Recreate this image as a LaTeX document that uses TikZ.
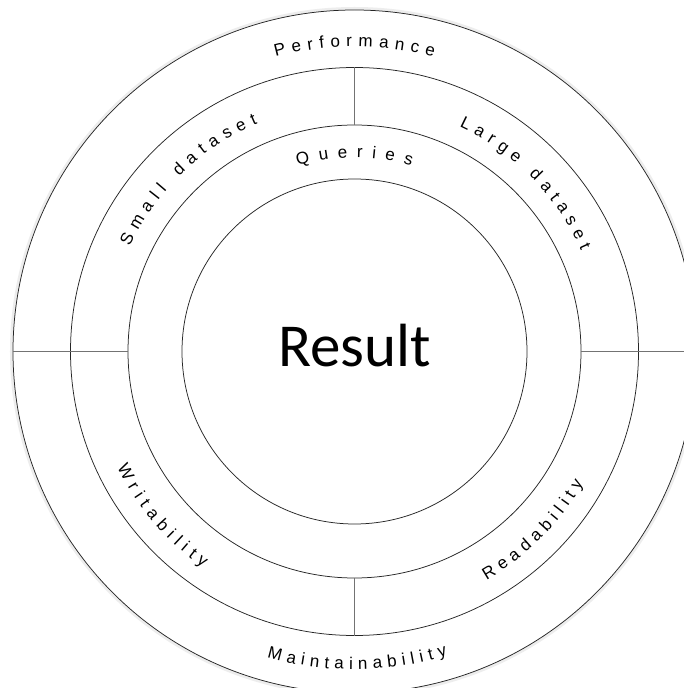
\documentclass[tikz,border=0pt]{standalone}
\usepackage{fontspec}
\setmainfont{Liberation Sans}
\newfontfamily\resultfont{Carlito}
\usetikzlibrary{decorations.text}

\def\rcore{172.5}  % Result circle
\def\rmid{226.5}   % Queries ring
\def\rsub{284}     % dataset / ability ring
\def\router{341.5} % outer ring
\newcommand{\labelsize}{\fontsize{17}{20}\selectfont}

\begin{document}
\begin{tikzpicture}[x=1pt, y=1pt,
    ring/.style={draw=black!85, line width=0.75pt},
    divider/.style={draw=black!55, line width=1.3pt}]
  \useasboundingbox (-354.5,-336.5) rectangle (329.5,351.5);
  \fill[white] (-354.5,-336.5) rectangle (329.5,351.5);

  % Rings
  \draw[black!7, line width=3pt] (0,0) circle (\router+1.5);
  \foreach \r in {\rcore,\rmid,\rsub,\router} {
    \draw[ring] (0,0) circle (\r);
  }

  % Dividers between the segments
  \draw[divider] (90:\rmid) -- (90:\rsub);
  \draw[divider] (270:\rmid) -- (270:\rsub);
  \draw[divider] (180:\rmid) -- (180:\router);
  \draw[divider] (0:\rmid) -- (0:\router);

  % Labels set along the rings
  \labelsize
  \foreach \rad/\astart/\aend/\txt in {
      305/105/75/Performance,
      194/107/73/Queries,
      248/155/113/Small dataset,
      248/65/24/Large dataset,
      264/206/235/Writability,
      264/300/330/Readability,
      318/254/287/Maintainability
    } {
      \path[decorate, decoration={text along path,
          text/.expanded={\txt},
          text align={fit to path}}]
        (\astart:\rad) arc (\astart:\aend:\rad);
    };

  \node[anchor=base, inner sep=0pt, font=\resultfont\fontsize{61}{61}\selectfont]
    (result) at (0,-14.5) {Result};
\end{tikzpicture}
\end{document}
